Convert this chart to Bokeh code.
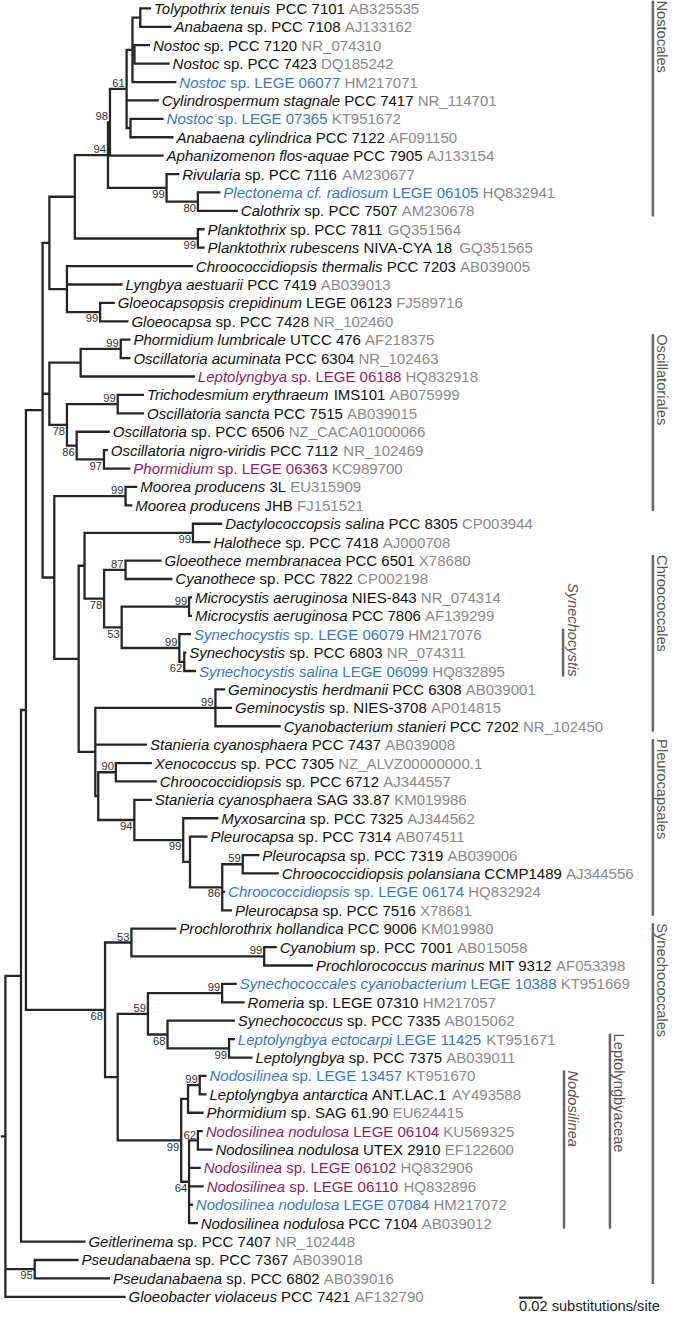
import math
from bokeh.plotting import figure
from bokeh.models import Range1d, ColumnDataSource
from bokeh.core.properties import value
from bokeh.embed import file_html
from bokeh.resources import INLINE

# ------------------------------------------------------------------ data
# Tree topology (Newick). Tips are leaf numbers (1..71), branch lengths in
# substitutions/site, internal labels = bootstrap support (a/b = label above/below stem).
NOSTOC = ("((((1:0.0092,2:0.0267):0.0067,(3:0.0133,4:0.0300):0.0017,5:0.0375):0.0050,"
          "6:0.0275,(7:0.0283,8:0.0367):0.0033)61a:0.0142,9:0.0458)98a:0.0017")
NOSTOCALES = "(" + NOSTOC + ",(10:0.0108,(11:0.0192,12:0.0342)80b:0.0267)99b:0.0500)94a:0.0283"
CLADE_E = "(" + NOSTOCALES + ",(13:0.0058,14:0.0058)99b:0.1050):0.0217"
CLADE_G = "(15:0.1075,16:0.0475,(17:0.0125,18:0.0242)99b:0.0283):0.0150"
CLADE_D = "(" + CLADE_E + "," + CLADE_G + "):0.0058"
OSCILL = ("(((19:0.0083,20:0.0083)99a:0.0342,21:0.0975):0.0267,((22:0.0225,23:0.0225)99a:0.0433,"
          "(24:0.0283,(25:0.0033,26:0.0225)97b:0.0233)86b:0.0083)78b:0.0150):0.0058")
MOOREA = "(27:0.0100,28:0.0058)99a:0.0608"
CHROO = ("((29:0.0250,30:0.0150)99b:0.0925,((31:0.0308,32:0.0400)87a:0.0183,"
         "((33:0.0025,34:0.0025)99a:0.0575,(35:0.0100,(36:0.0017,37:0.0100)62b:0.0042)99a:0.0492)53b:0.0150)78b:0.0167):0.0050")
PLEURO = ("((38:0.0083,39:0.0142,40:0.0558)99a:0.1025,41:0.0442,((42:0.0308,43:0.0350)90a:0.0150,"
          "(44:0.0150,(45:0.0300,(46:0.0150,((47:0.0142,48:0.0308)59a:0.0175,49:0.0025,50:0.0083)86b:0.0275):0.0058)99b:0.0417)94b:0.0308):0.0025):0.0142")
CLADE_H = "(" + CHROO + "," + PLEURO + "):0.0208"
CLADE_F = "(" + MOOREA + "," + CLADE_H + "):0.0100"
CLADE_C = "(" + CLADE_D + "," + OSCILL + "," + CLADE_F + "):0.0142"
SYNECHO = ("((51:0.0383,(52:0.0108,53:0.0417)99a:0.1133)53a:0.0225,(((54:0.0125,55:0.0192)99a:0.0633,"
           "(56:0.0575,(57:0.0050,58:0.0200)99b:0.0525)68b:0.0167)59a:0.0258,(((59:0.0058,60:0.0058)99a:0.0100,"
           "61:0.0133):0.0058,((62:0.0042,63:0.0125)62a:0.0075,64:0.0100,65:0.0125,66:0.0033,67:0.0075)64b:0.0067)99b:0.0542):0.0108)68b:0.0675")
CLADE_B = "(" + CLADE_C + "," + SYNECHO + "):0.0042"
CLADE_A = "(" + CLADE_B + ",68:0.0550):0.0133"
TREE = "(" + CLADE_A + ",(69:0.0375,70:0.0642)95b:0.0250,71:0.1025):0.0042;"

# Leaf labels: *...* = italic
LEAF_LABELS = [
    "*Tolypothrix tenuis* PCC 7101", "*Anabaena* sp. PCC 7108", "*Nostoc* sp. PCC 7120",
    "*Nostoc* sp. PCC 7423", "*Nostoc* sp. LEGE 06077", "*Cylindrospermum stagnale* PCC 7417",
    "*Nostoc* sp. LEGE 07365", "*Anabaena cylindrica* PCC 7122", "*Aphanizomenon flos-aquae* PCC 7905",
    "*Rivularia* sp. PCC 7116", "*Plectonema cf. radiosum* LEGE 06105", "*Calothrix* sp. PCC 7507",
    "*Planktothrix* sp. PCC 7811", "*Planktothrix rubescens* NIVA-CYA 18", "*Chroococcidiopsis thermalis* PCC 7203",
    "*Lyngbya aestuarii* PCC 7419", "*Gloeocapsopsis crepidinum* LEGE 06123", "*Gloeocapsa* sp. PCC 7428",
    "*Phormidium lumbricale* UTCC 476", "*Oscillatoria acuminata* PCC 6304", "*Leptolyngbya* sp. LEGE 06188",
    "*Trichodesmium erythraeum* IMS101", "*Oscillatoria sancta* PCC 7515", "*Oscillatoria* sp. PCC 6506",
    "*Oscillatoria nigro-viridis* PCC 7112", "*Phormidium* sp. LEGE 06363", "*Moorea producens* 3L",
    "*Moorea producens* JHB", "*Dactylococcopsis salina* PCC 8305", "*Halothece* sp. PCC 7418",
    "*Gloeothece membranacea* PCC 6501", "*Cyanothece* sp. PCC 7822", "*Microcystis aeruginosa* NIES-843",
    "*Microcystis aeruginosa* PCC 7806", "*Synechocystis* sp. LEGE 06079", "*Synechocystis* sp. PCC 6803",
    "*Synechocystis salina* LEGE 06099", "*Geminocystis herdmanii* PCC 6308", "*Geminocystis* sp. NIES-3708",
    "*Cyanobacterium stanieri* PCC 7202", "*Stanieria cyanosphaera* PCC 7437", "*Xenococcus* sp. PCC 7305",
    "*Chroococcidiopsis* sp. PCC 6712", "*Stanieria cyanosphaera* SAG 33.87", "*Myxosarcina* sp. PCC 7325",
    "*Pleurocapsa* sp. PCC 7314", "*Pleurocapsa* sp. PCC 7319", "*Chroococcidiopsis polansiana* CCMP1489",
    "*Chroococcidiopsis* sp. LEGE 06174", "*Pleurocapsa* sp. PCC 7516", "*Prochlorothrix hollandica* PCC 9006",
    "*Cyanobium* sp. PCC 7001", "*Prochlorococcus marinus* MIT 9312", "*Synechococcales cyanobacterium* LEGE 10388",
    "*Romeria* sp. LEGE 07310", "*Synechococcus* sp. PCC 7335", "*Leptolyngbya ectocarpi* LEGE 11425",
    "*Leptolyngbya* sp. PCC 7375", "*Nodosilinea* sp. LEGE 13457", "*Leptolyngbya antarctica* ANT.LAC.1",
    "*Phormidium* sp. SAG 61.90", "*Nodosilinea nodulosa* LEGE 06104", "*Nodosilinea nodulosa* UTEX 2910",
    "*Nodosilinea* sp. LEGE 06102", "*Nodosilinea* sp. LEGE 06110", "*Nodosilinea nodulosa* LEGE 07084",
    "*Nodosilinea nodulosa* PCC 7104", "*Geitlerinema* sp. PCC 7407", "*Pseudanabaena* sp. PCC 7367",
    "*Pseudanabaena* sp. PCC 6802", "*Gloeobacter violaceus* PCC 7421",
]
ACCESSIONS = [
    "AB325535", "AJ133162", "NR_074310", "DQ185242", "HM217071", "NR_114701", "KT951672", "AF091150",
    "AJ133154", "AM230677", "HQ832941", "AM230678", "GQ351564", "GQ351565", "AB039005", "AB039013",
    "FJ589716", "NR_102460", "AF218375", "NR_102463", "HQ832918", "AB075999", "AB039015", "NZ_CACA01000066",
    "NR_102469", "KC989700", "EU315909", "FJ151521", "CP003944", "AJ000708", "X78680", "CP002198",
    "NR_074314", "AF139299", "HM217076", "NR_074311", "HQ832895", "AB039001", "AP014815", "NR_102450",
    "AB039008", "NZ_ALVZ00000000.1", "AJ344557", "KM019986", "AJ344562", "AB074511", "AB039006", "AJ344556",
    "HQ832924", "X78681", "KM019980", "AB015058", "AF053398", "KT951669", "HM217057", "AB015062",
    "KT951671", "AB039011", "KT951670", "AY493588", "EU624415", "KU569325", "EF122600", "HQ832906",
    "HQ832896", "HM217072", "AB039012", "NR_102448", "AB039018", "AB039016", "AF132790",
]
# k = reference strain, b = LEGE strain (blue), p = LEGE strain (purple)
LEAF_GROUP = list("kkkkbkbkkkbkkkkkkkkkpkkkkpkkkkkkkkbkbkkkkkkkkkkkbkkkkbkkbkbkkpkppbkkkkk")

GROUP_NAMES = ["Nostocales", "Oscillatoriales", "Chroococcales", "Pleurocapsales", "Synechococcales",
               "Synechocystis", "Leptolyngbyaceae", "Nodosilinea"]
GROUP_FIRST = [1, 19, 31, 41, 51, 35, 57, 59]
GROUP_LAST = [12, 28, 40, 50, 70, 37, 67, 67]
GROUP_ITALIC = [False, False, False, False, False, True, False, True]

SCALE_LEN = 0.02
SCALE_TEXT = "0.02 substitutions/site"

# ------------------------------------------------------------------ layout / style
REF_W, REF_H = 685, 1329
FIG_W, FIG_H = 669, 1313
PXU = 24 / 0.02            # reference px per substitution/site
ROW0, ROW = 8.0, 18.63     # reference px of first leaf row, row spacing
SX = FIG_W / REF_W
FS = 15.0
BFS = 11.5 * SX
FONT = "Liberation Sans"
COLORS = {"k": "#111111", "b": "#3a78c1", "p": "#8c1f63"}
ACC_COLOR = "#8a8a8a"
LINE_COLOR = "#262626"
GROUP_COLOR = "#666666"

HW = {}
for ch, w in zip("ABCDEFGHIJKLMNOPQRSTUVWXYZ",
                 [667, 667, 722, 722, 667, 611, 778, 722, 278, 500, 667, 556, 833, 722, 778, 667, 778, 722, 667, 611, 722, 667, 944, 667, 667, 611]):
    HW[ch] = w
for ch, w in zip("abcdefghijklmnopqrstuvwxyz",
                 [556, 556, 500, 556, 556, 278, 556, 556, 222, 222, 500, 222, 833, 556, 556, 556, 556, 333, 500, 278, 556, 500, 722, 500, 500, 500]):
    HW[ch] = w
for ch in "0123456789":
    HW[ch] = 556
HW.update({" ": 278, ".": 278, "-": 333, "_": 556, "/": 278})


def text_w(t, fs):
    return sum(HW.get(c, 556) for c in t) * fs / 1000.0


def ref_y(py):
    """reference pixel row -> data y (rows counted downward as negative)"""
    return -(py - ROW0) / ROW


def parse(s):
    s = "".join(s.split())
    pos = 0

    def node():
        nonlocal pos
        n = {"children": [], "name": "", "bl": 0.0}
        if s[pos] == "(":
            pos += 1
            while True:
                n["children"].append(node())
                if s[pos] == ",":
                    pos += 1
                    continue
                if s[pos] == ")":
                    pos += 1
                    break
        st = pos
        while s[pos] not in ":,);":
            pos += 1
        n["name"] = s[st:pos]
        if s[pos] == ":":
            pos += 1
            st = pos
            while s[pos] not in ",);":
                pos += 1
            n["bl"] = float(s[st:pos])
        return n

    return node()


root = parse(TREE)


def layout(n, depth):
    n["x0"] = depth
    n["x"] = depth + n["bl"]
    if n["children"]:
        for c in n["children"]:
            layout(c, n["x"])
        n["y"] = (n["children"][0]["y"] + n["children"][-1]["y"]) / 2.0
    else:
        n["y"] = -float(int(n["name"]) - 1)


layout(root, 0.0)

xs, ys = [], []
boot = {"a": {"x": [], "y": [], "t": []}, "b": {"x": [], "y": [], "t": []}}
tips = {}


def walk(n):
    if n["children"]:
        c1, cn = n["children"][0], n["children"][-1]
        xs.append([c1["x"], n["x"], n["x"], cn["x"]])
        ys.append([c1["y"], c1["y"], cn["y"], cn["y"]])
        for c in n["children"][1:-1]:
            xs.append([n["x"], c["x"]])
            ys.append([c["y"], c["y"]])
        if n["name"]:
            pos = n["name"][-1]
            boot[pos]["x"].append(n["x"] - 2.0 / PXU)
            boot[pos]["y"].append(n["y"] + (0.1 if pos == "a" else -0.12))
            boot[pos]["t"].append(n["name"][:-1])
        for c in n["children"]:
            walk(c)
    else:
        tips[int(n["name"]) - 1] = n


walk(root)
xs.append([root["x0"], root["x"]])
ys.append([root["y"], root["y"]])

p = figure(width=FIG_W, height=FIG_H, output_backend="svg", toolbar_location=None,
           x_range=Range1d(0, REF_W / PXU), y_range=Range1d(ref_y(REF_H), ref_y(0)),
           min_border=0)
p.axis.visible = False
p.grid.visible = False
p.outline_line_color = None
p.background_fill_color = "white"

p.multi_line(xs, ys, line_color=LINE_COLOR, line_width=2.3, line_join="miter", line_cap="butt")

# leaf labels
segs = {"italic": {"x": [], "y": [], "text": [], "xo": [], "color": []},
        "normal": {"x": [], "y": [], "text": [], "xo": [], "color": []}}
space = HW[" "] * FS / 1000.0
for i, lab in enumerate(LEAF_LABELS):
    t = tips[i]
    off = 3.0 * SX
    col = COLORS[LEAF_GROUP[i]]
    for k, part in enumerate(lab.split("*")):
        if not part:
            continue
        lead = len(part) - len(part.lstrip(" "))
        trail = len(part) - len(part.rstrip(" "))
        off += lead * space
        body = part.strip(" ")
        if body:
            d = segs["italic" if k % 2 == 1 else "normal"]
            d["x"].append(t["x"]); d["y"].append(t["y"]); d["text"].append(body)
            d["xo"].append(off); d["color"].append(col)
            off += text_w(body, FS)
        off += trail * space
    off += space
    d = segs["normal"]
    d["x"].append(t["x"]); d["y"].append(t["y"]); d["text"].append(ACCESSIONS[i])
    d["xo"].append(off); d["color"].append(ACC_COLOR)

for style, d in segs.items():
    p.text(x="x", y="y", text="text", x_offset="xo", text_color="color",
           source=ColumnDataSource(d), text_font=value(FONT), text_font_size=f"{FS:.2f}px",
           text_font_style=style, text_baseline="middle", text_align="left")

# bootstrap values
for pos, d in boot.items():
    p.text(x=d["x"], y=d["y"], text=d["t"], text_font=value(FONT), text_font_size=f"{BFS:.2f}px",
           text_color="#333333", text_align="right",
           text_baseline="bottom" if pos == "a" else "top")

# group bars and labels (text reads downward, to the right of its bar)
bar_x = {"Synechocystis": 576, "Leptolyngbyaceae": 624, "Nodosilinea": 577}
for name, f, l, it in zip(GROUP_NAMES, GROUP_FIRST, GROUP_LAST, GROUP_ITALIC):
    bx = bar_x.get(name, 668) / PXU
    top_pad = 0.43 if f == 1 else 0.3
    y0, y1 = -(f - 1 - top_pad), -(l - 1 + 0.3)
    p.segment(x0=[bx], y0=[y0], x1=[bx], y1=[y1], line_color=GROUP_COLOR, line_width=2.5)
    lx = bx + 1.5 / PXU
    p.text(x=[lx], y=[y1 if name == "Synechocystis" else y0], text=[name], angle=-math.pi / 2,
           text_align="right" if name == "Synechocystis" else "left",
           text_baseline="bottom", text_font=value(FONT), text_font_size=f"{FS * SX:.2f}px",
           text_font_style="italic" if it else "normal", text_color="#555555")

# scale bar
sb_x = 531 / PXU
p.segment(x0=[sb_x], y0=[ref_y(1313)], x1=[sb_x + SCALE_LEN], y1=[ref_y(1313)],
          line_color=LINE_COLOR, line_width=2.2)
p.text(x=[sb_x], y=[ref_y(1329)], text=[SCALE_TEXT], text_font=value(FONT), text_font_size=f"{FS * SX:.2f}px",
       text_color="#222222", text_align="left", text_baseline="bottom")

open("out.html", "w").write(file_html(p, INLINE))
